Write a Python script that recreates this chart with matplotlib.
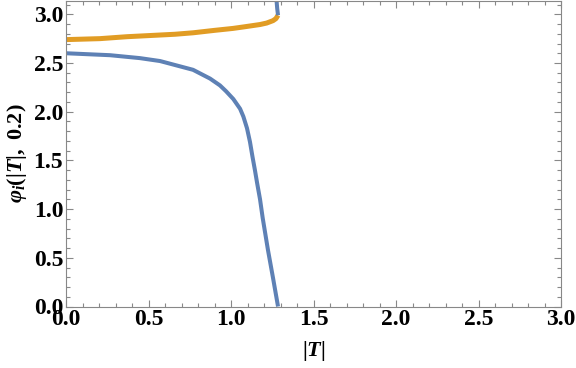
import numpy as np
import matplotlib
matplotlib.use("Agg")
import matplotlib.pyplot as plt
from matplotlib.ticker import MultipleLocator

# data
blue_T = [0.0, 0.267, 0.448, 0.57, 0.77, 0.873, 0.933, 0.97, 1.014, 1.055,
          1.075, 1.097, 1.115, 1.13, 1.145, 1.158, 1.176, 1.192, 1.224, 1.255, 1.285]
blue_phi = [2.60, 2.58, 2.55, 2.52, 2.43, 2.34, 2.27, 2.21, 2.13, 2.03,
            1.95, 1.83, 1.69, 1.54, 1.40, 1.27, 1.10, 0.91, 0.58, 0.29, 0.0]
blue_top_T = [1.285, 1.280, 1.276]
blue_top_phi = [2.99, 3.06, 3.1416]
orange_T = [0.0, 0.206, 0.37, 0.66, 0.77, 0.9, 1.012, 1.075, 1.176, 1.216, 1.255, 1.272, 1.285]
orange_phi = [2.74, 2.75, 2.77, 2.795, 2.81, 2.835, 2.855, 2.87, 2.895, 2.91, 2.935, 2.955, 2.99]

xticks = [0.0, 0.5, 1.0, 1.5, 2.0, 2.5, 3.0]
yticks = [0.0, 0.5, 1.0, 1.5, 2.0, 2.5, 3.0]

plt.rcParams['font.family'] = ['Liberation Serif', 'DejaVu Serif']
plt.rcParams['mathtext.fontset'] = 'custom'
plt.rcParams['mathtext.rm'] = 'Liberation Serif:bold'
plt.rcParams['mathtext.it'] = 'Liberation Serif:italic:bold'
plt.rcParams['mathtext.bf'] = 'Liberation Serif:bold'

BLUE = '#5E81B5'
ORANGE = '#E19C24'

fig = plt.figure(figsize=(5.76, 3.68), dpi=100)
ax = fig.add_axes([66/576, 1 - 306.5/368, (561-66)/576, 306/368])

ax.plot(orange_T, orange_phi, color=ORANGE, lw=3.6, solid_capstyle='butt', solid_joinstyle='round')
ax.plot(blue_T, blue_phi, color=BLUE, lw=2.9, solid_capstyle='butt', solid_joinstyle='round')
ax.plot(blue_top_T, blue_top_phi, color=BLUE, lw=2.9, solid_capstyle='butt')

ax.set_xlim(0, 3.0)
ax.set_ylim(0, np.pi)
ax.set_xticks(xticks)
ax.set_yticks(yticks)
ax.set_xticklabels([f"{v:.1f}" for v in xticks])
ax.set_yticklabels([f"{v:.1f}" for v in yticks])
ax.xaxis.set_minor_locator(MultipleLocator(0.1))
ax.yaxis.set_minor_locator(MultipleLocator(0.1))

for s in ax.spines.values():
    s.set_color('#888888')
    s.set_linewidth(0.8)
ax.tick_params(which='both', direction='in', top=True, right=True, color='#888888', width=0.8)
ax.tick_params(which='major', length=5, labelsize=17, pad=2)
ax.tick_params(which='minor', length=3)
for lab in ax.get_xticklabels() + ax.get_yticklabels():
    lab.set_fontweight('bold')

ax.set_xlabel(r'$|T|$', fontsize=16, labelpad=6)
ax.set_ylabel(r'$\varphi_i(|T|,$ $0.2)$', fontsize=16, labelpad=3)

fig.savefig('out.png', dpi=100)
